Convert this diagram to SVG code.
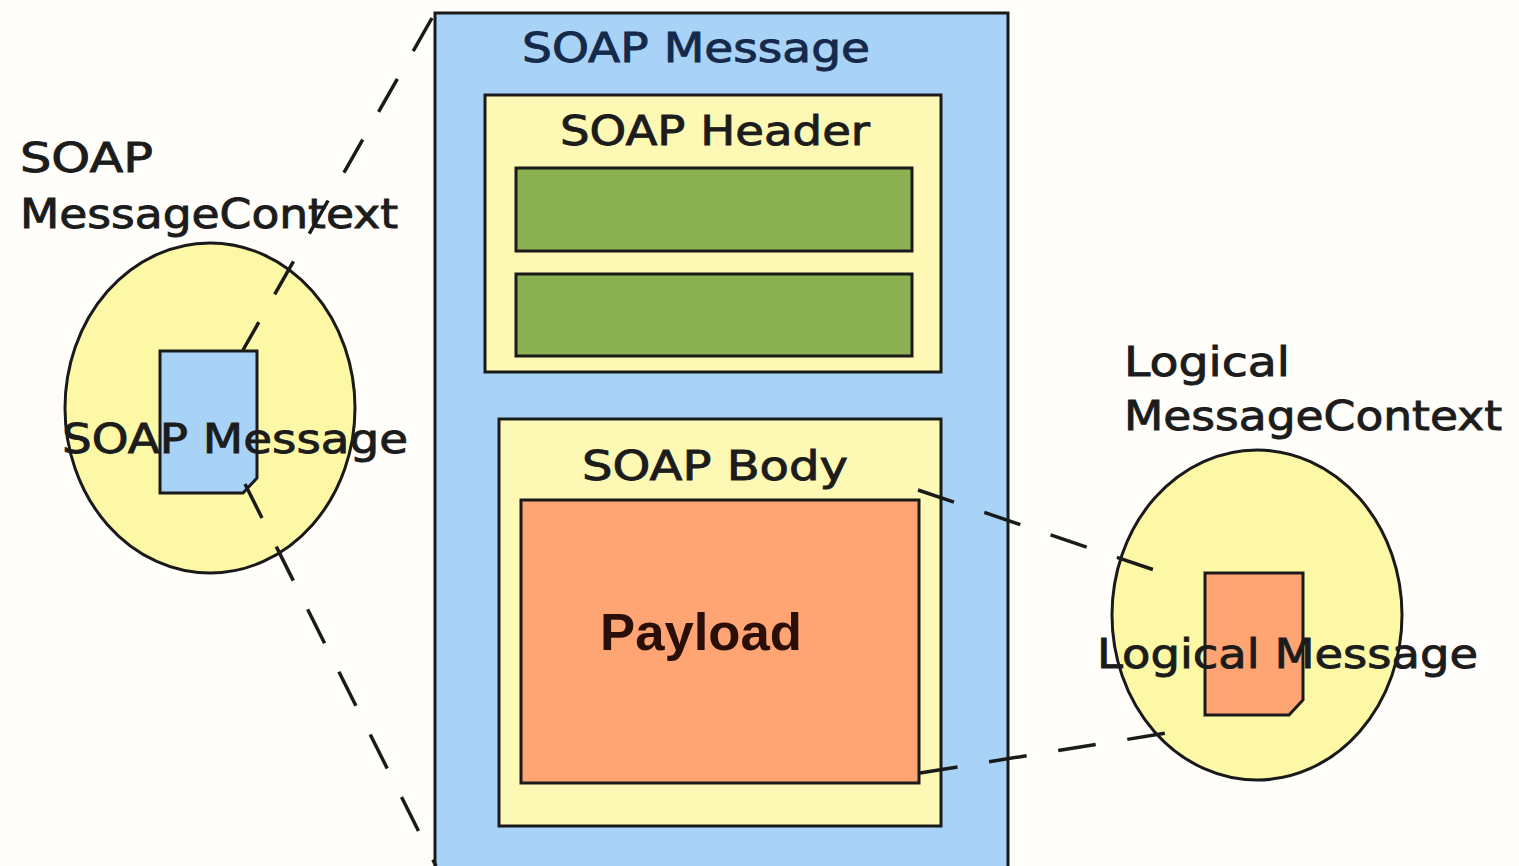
<svg xmlns="http://www.w3.org/2000/svg" width="1519" height="866" viewBox="0 0 1519 866">
<style>
.lbl{font-family:"DejaVu Sans",Verdana,sans-serif;font-size:40px;fill:#1c1c1c;stroke:#1c1c1c;stroke-width:0.9}
.ttl{fill:#15294a;stroke:#15294a}
.box{stroke:#1a1a1a;stroke-width:3}
.dash{stroke:#1a1a1a;stroke-width:3.5;stroke-dasharray:38 32;fill:none}
</style>
<rect width="1519" height="866" fill="#fffefa"/>
<g id="soap-message">
<rect class="box" x="435" y="13" width="573" height="870" fill="#a8d3f7"/>
<text class="lbl ttl" x="522" y="62" textLength="348" lengthAdjust="spacingAndGlyphs">SOAP Message</text>
</g>
<g id="soap-header">
<rect class="box" x="485" y="95" width="456" height="277" fill="#fdf9b4"/>
<text class="lbl" x="560" y="145" textLength="310" lengthAdjust="spacingAndGlyphs">SOAP Header</text>
<rect class="box" x="516" y="168" width="396" height="83" fill="#8bb152"/>
<rect class="box" x="516" y="274" width="396" height="82" fill="#8bb152"/>
</g>
<g id="soap-body">
<rect class="box" x="499" y="419" width="442" height="407" fill="#fdf9b4"/>
<text class="lbl" x="582" y="480" textLength="266" lengthAdjust="spacingAndGlyphs">SOAP Body</text>
</g>
<g id="payload">
<rect class="box" x="521" y="500" width="398" height="283" fill="#ffa574"/>
<text x="600" y="650" style="font-family:'Liberation Sans',Arial,sans-serif;font-weight:bold;font-size:52px;fill:#2a0f08" textLength="202" lengthAdjust="spacingAndGlyphs">Payload</text>
</g>
<g id="soap-context">
<text class="lbl" x="20" y="172" textLength="133" lengthAdjust="spacingAndGlyphs">SOAP</text>
<text class="lbl" x="20" y="228" textLength="378" lengthAdjust="spacingAndGlyphs">MessageContext</text>
<ellipse cx="210" cy="408" rx="145" ry="165" fill="#fcf8a6" stroke="#1a1a1a" stroke-width="3"/>
<path class="box" d="M160 351 H257 V478 L243 493 H160 Z" fill="#a8d3f7"/>
<text class="lbl" x="62" y="453" textLength="346" lengthAdjust="spacingAndGlyphs">SOAP Message</text>
</g>
<g id="logical-context">
<text class="lbl" x="1124" y="376" textLength="166" lengthAdjust="spacingAndGlyphs">Logical</text>
<text class="lbl" x="1124" y="430" textLength="378" lengthAdjust="spacingAndGlyphs">MessageContext</text>
<ellipse cx="1257" cy="615" rx="145" ry="165" fill="#fcf8a6" stroke="#1a1a1a" stroke-width="3"/>
<path class="box" d="M1205 573 H1303 V700 L1289 715 H1205 Z" fill="#ffa574"/>
<text class="lbl" x="1097" y="668" textLength="381" lengthAdjust="spacingAndGlyphs">Logical Message</text>
</g>
<g id="connectors">
<line class="dash" x1="432" y1="18" x2="243" y2="350"/>
<line class="dash" x1="245" y1="484" x2="436" y2="866"/>
<line class="dash" x1="918" y1="490" x2="1175" y2="577"/>
<line class="dash" x1="920" y1="773" x2="1185" y2="730"/>
</g>
</svg>
